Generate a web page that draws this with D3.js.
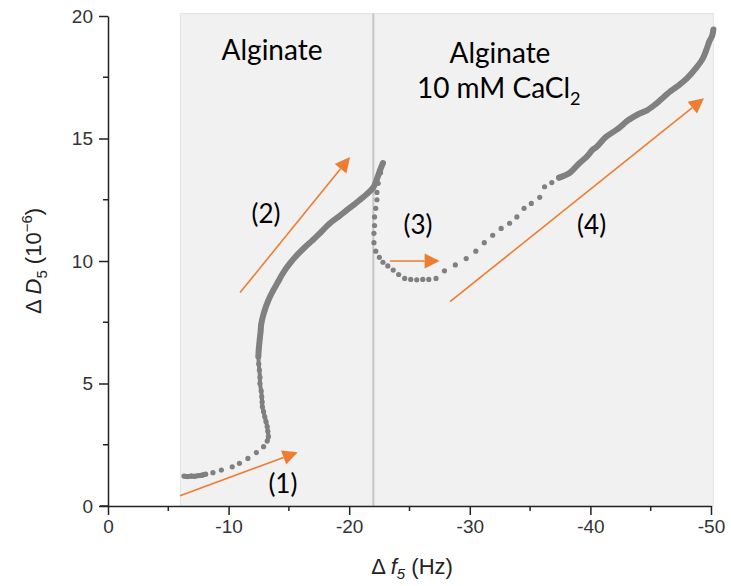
<!DOCTYPE html>
<html>
<head>
<meta charset="utf-8">
<script src="https://cdn.jsdelivr.net/npm/d3@7"></script>
<style>
  html, body { margin: 0; padding: 0; background: #fff; }
  svg { display: block; }
</style>
</head>
<body>
<svg id="chart" width="731" height="586"></svg>
<script>
// ---- data (Δf5 shown as magnitude in Hz; axis labels are negative) ----
// segment 1: initial adsorption (alginate), sparse dots
const seg1F = [6.3, 6.6, 6.9, 7.2, 7.5, 7.8, 8.1, 8.7, 9.4, 10.3, 10.9, 11.6, 12.3, 12.9, 13.2, 13.3, 13.25, 13.2, 13.1, 13.0, 12.9, 12.8, 12.78, 12.75, 12.7, 12.6, 12.6, 12.55, 12.5, 12.47];
const seg1D = [1.22, 1.2, 1.22, 1.21, 1.24, 1.26, 1.3, 1.36, 1.47, 1.6, 1.74, 1.94, 2.18, 2.42, 2.65, 2.83, 3.05, 3.24, 3.45, 3.64, 3.85, 4.05, 4.25, 4.46, 4.7, 5.0, 5.25, 5.55, 5.8, 6.1];
// segment 2: dense rise to peak
const seg2F = [12.47, 12.5, 12.55, 12.6, 12.65, 12.7, 12.8, 13.0, 13.3, 13.7, 14.1, 14.5, 15.0, 15.6, 16.3, 17.0, 17.7, 18.4, 19.1, 19.8, 20.4, 20.9, 21.5, 22.0, 22.3, 22.55, 22.8];
const seg2D = [6.1, 6.4, 6.64, 6.9, 7.1, 7.4, 7.65, 8.0, 8.4, 8.8, 9.15, 9.5, 9.85, 10.2, 10.55, 10.86, 11.2, 11.54, 11.8, 12.08, 12.3, 12.5, 12.75, 13.0, 13.35, 13.7, 14.0];
// segment 3: CaCl2 addition, drop and recovery (sparse dots)
const seg3F = [22.6, 22.4, 22.3, 22.3, 22.2, 22.1, 22.1, 22.05, 22.05, 22.2, 22.5, 22.8, 23.2, 23.65, 24.1, 24.6, 25.1, 25.6, 26.1, 26.6, 27.2, 27.9, 28.8, 29.7, 30.5, 31.2, 31.9, 32.6, 33.3, 33.9, 34.5, 35.1, 35.8, 36.2, 36.8, 37.4];
const seg3D = [13.6, 13.17, 12.8, 12.5, 12.15, 11.8, 11.45, 11.13, 10.75, 10.4, 10.15, 9.95, 9.8, 9.63, 9.45, 9.29, 9.25, 9.23, 9.25, 9.25, 9.29, 9.6, 9.84, 10.1, 10.4, 10.75, 11.05, 11.33, 11.54, 11.8, 12.15, 12.35, 12.6, 13.03, 13.2, 13.4];
// segment 4: dense growth
const seg4F = [37.4, 38.3, 39.0, 39.7, 40.2, 40.5, 41.3, 42.3, 43.0, 43.3, 44.0, 44.7, 45.4, 45.8, 46.7, 47.4, 48.0, 48.8, 49.3, 49.6, 49.85, 50.1, 50.2];
const seg4D = [13.4, 13.6, 13.95, 14.26, 14.55, 14.65, 15.07, 15.4, 15.7, 15.8, 16.0, 16.15, 16.4, 16.57, 16.95, 17.2, 17.45, 17.9, 18.25, 18.6, 18.95, 19.2, 19.45];

const xTicks = [0, 10, 20, 30, 40, 50];
const xTickLabels = ["0", "-10", "-20", "-30", "-40", "-50"];
const yTicks = [0, 5, 10, 15, 20];
const phaseBoundary = 22;          // Hz, solution exchange
const shadeRange = [6, 50.2];      // Hz
const shadeTop = 20.1;

// arrows [f0, D0, f1, D1]
const arrows = [
  [5.97, 0.42, 15.73, 2.19],
  [10.95, 8.71, 20.07, 14.24],
  [23.38, 10.0, 27.5, 10.0],
  [28.36, 8.34, 49.42, 16.64]
];
const stepLabels = ["(1)", "(2)", "(3)", "(4)"];
const stepPos = [[14.5, 0.52], [13.1, 11.55], [25.7, 11.1], [40.1, 11.1]];

// ---- drawing ----
const svg = d3.select("#chart");
const x = d3.scaleLinear().domain([0, 50]).range([108, 711]);
const y = d3.scaleLinear().domain([0, 20]).range([506, 16]);

const orange = "#ED7D31";
const grey = "#808080";
const axisCol = "#222";

// shaded background
svg.append("rect")
  .attr("x", x(shadeRange[0])).attr("y", y(shadeTop))
  .attr("width", x(shadeRange[1]) - x(shadeRange[0]))
  .attr("height", y(0) - y(shadeTop))
  .attr("fill", "#f1f1f1").attr("stroke", "#e4e4e4").attr("stroke-width", 1);

svg.append("line")
  .attr("x1", x(phaseBoundary)).attr("x2", x(phaseBoundary))
  .attr("y1", y(shadeTop)).attr("y2", y(0))
  .attr("stroke", "#c6c6c6").attr("stroke-width", 2);

// data
const line = d3.line().x(d => x(d[0])).y(d => y(d[1])).curve(d3.curveCatmullRom);
function pts(F, D) { return F.map((f, i) => [f, D[i]]); }

[[seg2F, seg2D], [seg4F, seg4D]].forEach(([F, D]) => {
  svg.append("path").datum(pts(F, D)).attr("d", line)
    .attr("fill", "none").attr("stroke", grey).attr("stroke-width", 6)
    .attr("stroke-linecap", "round").attr("stroke-linejoin", "round");
});
[[seg1F, seg1D], [seg2F, seg2D], [seg3F, seg3D], [seg4F, seg4D]].forEach(([F, D]) => {
  svg.append("g").selectAll("circle").data(pts(F, D)).join("circle")
    .attr("cx", d => x(d[0])).attr("cy", d => y(d[1])).attr("r", 2.6)
    .attr("fill", grey);
});
// denser cluster at start
svg.append("path").datum(pts(seg1F.slice(0, 7), seg1D.slice(0, 7))).attr("d", line)
  .attr("fill", "none").attr("stroke", grey).attr("stroke-width", 5);
// vertical stretch looks continuous
svg.append("path").datum(pts(seg1F.slice(14), seg1D.slice(14))).attr("d", line)
  .attr("fill", "none").attr("stroke", grey).attr("stroke-width", 4);

// arrows
arrows.forEach(a => {
  const x0 = x(a[0]), y0 = y(a[1]), x1 = x(a[2]), y1 = y(a[3]);
  const ang = Math.atan2(y1 - y0, x1 - x0);
  const L = 15, W = 7.5;
  const bx = x1 - L * Math.cos(ang), by = y1 - L * Math.sin(ang);
  svg.append("line").attr("x1", x0).attr("y1", y0).attr("x2", bx).attr("y2", by)
    .attr("stroke", orange).attr("stroke-width", 1.6);
  const p = [[x1, y1],
    [bx + W * Math.sin(ang), by - W * Math.cos(ang)],
    [bx - W * Math.sin(ang), by + W * Math.cos(ang)]];
  svg.append("polygon").attr("points", p.map(q => q.join(",")).join(" ")).attr("fill", orange);
});

// annotation text
const annoFont = "Lato, 'Open Sans', sans-serif";
stepLabels.forEach((t, i) => {
  svg.append("text").attr("x", x(stepPos[i][0])).attr("y", y(stepPos[i][1]))
    .attr("text-anchor", "middle").attr("font-family", annoFont).attr("font-size", 26)
    .attr("fill", "#000").text(t);
});
svg.append("text").attr("x", x(13.6)).attr("y", y(18.2)).attr("text-anchor", "middle")
  .attr("font-family", annoFont).attr("font-size", 28).attr("fill", "#000").text("Alginate");
svg.append("text").attr("x", x(32.5)).attr("y", y(18.08)).attr("text-anchor", "middle")
  .attr("font-family", annoFont).attr("font-size", 28).attr("fill", "#000").text("Alginate");
const ca = svg.append("text").attr("x", x(32.4)).attr("y", y(16.65)).attr("text-anchor", "middle")
  .attr("font-family", annoFont).attr("font-size", 28).attr("fill", "#000");
ca.append("tspan").text("10 mM CaCl");
ca.append("tspan").attr("font-size", 18).attr("dy", 7).text("2");

// axes
const xAxis = d3.axisBottom(x).tickValues(xTicks).tickFormat((d, i) => xTickLabels[i])
  .tickSize(9).tickSizeOuter(0).tickPadding(5);
const gx = svg.append("g").attr("transform", `translate(0,${y(0)})`).call(xAxis);
const yAxis = d3.axisLeft(y).tickValues(yTicks).tickSize(9).tickSizeOuter(0).tickPadding(6);
const gy = svg.append("g").attr("transform", `translate(${x(0)},0)`).call(yAxis);
// minor ticks
gx.selectAll(".minor").data([5, 15, 25, 35, 45]).join("line")
  .attr("x1", d => x(d)).attr("x2", d => x(d)).attr("y1", 0).attr("y2", 5)
  .attr("stroke", axisCol).attr("stroke-width", 1.5);
gy.selectAll(".minor").data([2.5, 7.5, 12.5, 17.5]).join("line")
  .attr("y1", d => y(d)).attr("y2", d => y(d)).attr("x1", 0).attr("x2", -5)
  .attr("stroke", axisCol).attr("stroke-width", 1.5);
[gx, gy].forEach(g => {
  g.select(".domain").attr("stroke", axisCol).attr("stroke-width", 1.5);
  g.selectAll(".tick line").attr("stroke", axisCol).attr("stroke-width", 1.5);
  g.selectAll("text").attr("font-family", "'Liberation Sans', Arial, sans-serif")
    .attr("font-size", 19).attr("fill", "#333");
});
// extend x axis slightly left of origin like reference
gx.append("line").attr("x1", x(0) - 8).attr("x2", x(0)).attr("y1", 0).attr("y2", 0)
  .attr("stroke", axisCol).attr("stroke-width", 1.5);

// axis titles
const labFont = "'Liberation Sans', Arial, sans-serif";
const xl = svg.append("text").attr("x", 412).attr("y", 574).attr("text-anchor", "middle")
  .attr("font-family", labFont).attr("font-size", 22).attr("fill", "#222");
xl.append("tspan").text("Δ ");
xl.append("tspan").attr("font-style", "italic").text("f");
xl.append("tspan").attr("font-style", "italic").attr("font-size", 15).attr("dy", 5).text("5");
xl.append("tspan").attr("dy", -5).text(" (Hz)");

const yl = svg.append("text").attr("transform", `translate(41,${(y(0) + y(20)) / 2}) rotate(-90)`)
  .attr("text-anchor", "middle").attr("font-family", labFont).attr("font-size", 22).attr("fill", "#222");
yl.append("tspan").text("Δ ");
yl.append("tspan").attr("font-style", "italic").text("D");
yl.append("tspan").attr("font-size", 15).attr("dy", 6).text("5");
yl.append("tspan").attr("dy", -6).text(" (10");
yl.append("tspan").attr("font-size", 15).attr("dy", -9).text("−6");
yl.append("tspan").attr("dy", 9).text(")");
</script>
</body>
</html>
